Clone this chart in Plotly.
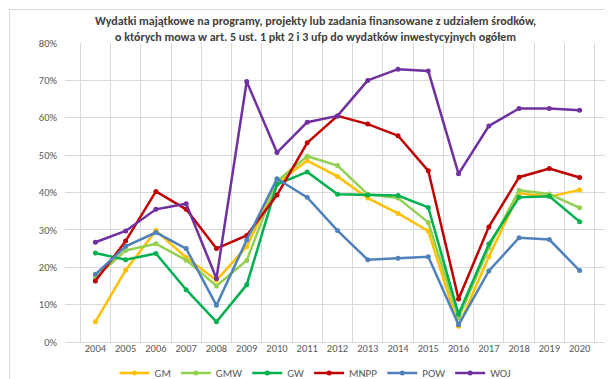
import plotly.graph_objects as go

years = [str(y) for y in range(2004, 2021)]

GM = [5.4, 19.2, 29.8, 22.6, 16.5, 25.5, 42.5, 48.5, 44.3, 38.5, 34.4, 29.7, 4.2, 22.8, 39.8, 38.9, 40.7]
GMW = [17.2, 24.5, 26.3, 21.9, 15.0, 21.8, 43.0, 49.7, 47.2, 39.5, 38.5, 32.0, 6.4, 25.2, 40.6, 39.6, 35.9]
GW = [23.8, 22.0, 23.7, 14.0, 5.4, 15.3, 42.2, 45.5, 39.5, 39.3, 39.2, 36.0, 7.4, 26.2, 38.7, 39.0, 32.2]
MNPP = [16.3, 27.0, 40.3, 35.5, 25.0, 28.5, 39.3, 53.3, 60.5, 58.3, 55.2, 45.8, 11.5, 30.8, 44.1, 46.4, 44.0]
POW = [18.1, 25.6, 29.3, 25.0, 9.8, 27.3, 43.7, 38.7, 29.8, 22.0, 22.4, 22.8, 4.6, 19.0, 27.9, 27.4, 19.1]
WOJ = [26.7, 29.7, 35.5, 37.0, 17.0, 69.7, 50.7, 58.8, 60.5, 70.0, 73.0, 72.5, 45.0, 57.8, 62.5, 62.5, 62.0]

series = [
    ("GM", GM, "#FFC000"),
    ("GMW", GMW, "#92D050"),
    ("GW", GW, "#00B050"),
    ("MNPP", MNPP, "#C00000"),
    ("POW", POW, "#4F81BD"),
    ("WOJ", WOJ, "#7030A0"),
]

title_text = ("Wydatki majątkowe na programy, projekty lub zadania finansowane z udziałem środków,<br>"
              "o których mowa w art. 5 ust. 1 pkt 2 i 3 ufp do wydatków inwestycyjnych ogółem")

W, H = 613, 379
L, R, T, B = 57, 11, 35, 45
pw, ph = W - L - R, H - T - B
FONT = "Carlito, Liberation Sans Narrow, Open Sans"

def px(x):
    return (x - L) / pw

def py(y):
    return (H - B - y) / ph

fig = go.Figure()
for name, vals, col in series:
    fig.add_trace(go.Scatter(
        x=years, y=[v / 100 for v in vals], name=name, mode="lines+markers",
        line=dict(color=col, width=2.5),
        marker=dict(color=col, size=5),
    ))

fig.update_layout(
    width=W, height=H,
    margin=dict(l=L, r=R, t=T, b=B, autoexpand=False),
    paper_bgcolor="white", plot_bgcolor="white",
    font=dict(family=FONT, color="#595959", size=10.5),
    showlegend=True,
    legend=dict(orientation="h", x=px(307), xanchor="center", y=py(365), yanchor="middle",
                bgcolor="rgba(0,0,0,0)",
                font=dict(family=FONT, size=11, color="#595959"), itemwidth=30, tracegroupgap=0),
    xaxis=dict(type="category", tickson="boundaries", showgrid=True, gridcolor="#D9D9D9",
               ticks="", showline=True, linecolor="#D9D9D9", automargin=False, tickangle=0,
               ticklabelstandoff=-4, tickfont=dict(family=FONT, size=10.5)),
    yaxis=dict(range=[0, 0.8], dtick=0.1, tickformat=".0%", showgrid=True, gridcolor="#D9D9D9",
               zeroline=False, ticks="", automargin=False, ticklabelstandoff=7,
               tickfont=dict(family=FONT, size=10.5)),
    annotations=[dict(text=title_text, xref="paper", yref="paper", x=px(307), y=py(21),
                      xanchor="center", yanchor="middle", showarrow=False, align="center",
                      font=dict(family=FONT, size=12, color="#404040", weight="bold"))],
    shapes=[dict(type="rect", xref="paper", yref="paper", x0=px(1.5), x1=px(611), y0=py(377), y1=py(1.5),
                 line=dict(color="#D9D9D9", width=1))],
)

fig.write_html("out.html")
